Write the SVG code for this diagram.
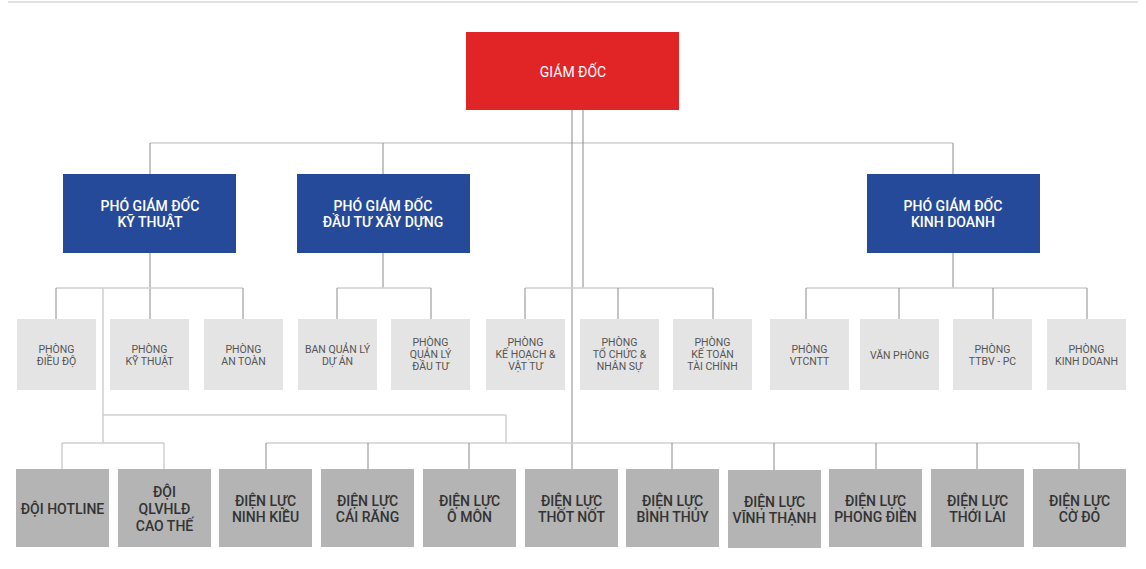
<svg xmlns="http://www.w3.org/2000/svg" width="1146" height="569" viewBox="0 0 1146 569">
<style>
  .red{fill:#e12527}
  .blue{fill:#264a9a}
  .light{fill:#e4e4e4}
  .mid{fill:#b4b4b4}
  .tw{fill:#ffffff;font-family:Roboto,"Liberation Sans",sans-serif;text-anchor:middle}
  .tb{font-size:14px;font-weight:500}
  .tg{fill:#555555;font-family:Roboto,"Liberation Sans",sans-serif;font-size:10.5px;text-anchor:middle}
  .td{fill:#333333;font-family:Roboto,"Liberation Sans",sans-serif;font-size:14px;font-weight:500;text-anchor:middle}
  .ln{stroke:#8a8a8a;stroke-width:1;fill:none}
  .lh{stroke:#cfcfcf;stroke-width:1.5;fill:none}
</style>
<line x1="8" y1="2" x2="1138" y2="2" stroke="#e2e2e2" stroke-width="2"/>
<g id="connectors">
  <line class="lh" x1="150" y1="143" x2="953" y2="143" stroke-width="2"/>
  <line class="ln" x1="150" y1="143" x2="150" y2="174"/>
  <line class="ln" x1="383" y1="143" x2="383" y2="174"/>
  <line class="ln" x1="953" y1="143" x2="953" y2="174"/>
  <line class="ln" x1="572" y1="110" x2="572" y2="469"/>
  <line class="ln" x1="583" y1="110" x2="583" y2="288"/>
  <line class="ln" x1="150" y1="253" x2="150" y2="319"/>
  <line class="lh" x1="56" y1="288" x2="243" y2="288"/>
  <line class="ln" x1="56" y1="288" x2="56" y2="319"/>
  <line class="ln" x1="243" y1="288" x2="243" y2="319"/>
  <line class="lh" x1="103" y1="288" x2="103" y2="443"/>
  <line class="ln" x1="383" y1="253" x2="383" y2="288"/>
  <line class="lh" x1="337" y1="288" x2="431" y2="288"/>
  <line class="ln" x1="337" y1="288" x2="337" y2="319"/>
  <line class="ln" x1="431" y1="288" x2="431" y2="319"/>
  <line class="lh" x1="525" y1="288" x2="713" y2="288"/>
  <line class="ln" x1="525" y1="288" x2="525" y2="319"/>
  <line class="ln" x1="618" y1="288" x2="618" y2="319"/>
  <line class="ln" x1="713" y1="288" x2="713" y2="319"/>
  <line class="ln" x1="953" y1="253" x2="953" y2="288"/>
  <line class="lh" x1="806" y1="288" x2="1087" y2="288"/>
  <line class="ln" x1="806" y1="288" x2="806" y2="319"/>
  <line class="ln" x1="899" y1="288" x2="899" y2="319"/>
  <line class="ln" x1="993" y1="288" x2="993" y2="319"/>
  <line class="ln" x1="1087" y1="288" x2="1087" y2="319"/>
  <line class="lh" x1="103" y1="415" x2="506" y2="415"/>
  <line class="lh" x1="506" y1="415" x2="506" y2="443"/>
  <line class="lh" x1="62" y1="443" x2="164" y2="443"/>
  <line class="lh" x1="62" y1="443" x2="62" y2="469"/>
  <line class="lh" x1="164" y1="443" x2="164" y2="469"/>
  <line class="lh" x1="266" y1="443" x2="1079" y2="443"/>
  <line class="ln" x1="266" y1="443" x2="266" y2="469"/>
  <line class="ln" x1="368" y1="443" x2="368" y2="469"/>
  <line class="ln" x1="469" y1="443" x2="469" y2="469"/>
  <line class="ln" x1="672" y1="443" x2="672" y2="469"/>
  <line class="ln" x1="774" y1="443" x2="774" y2="470"/>
  <line class="ln" x1="876" y1="443" x2="876" y2="469"/>
  <line class="ln" x1="977" y1="443" x2="977" y2="469"/>
  <line class="ln" x1="1079" y1="443" x2="1079" y2="469"/>
</g>
<g id="giam-doc"><rect class="red" x="466" y="32" width="213" height="78"/><text class="tw" x="573" y="77" font-size="14">GIÁM ĐỐC</text></g>
<g id="pgd-kt"><rect class="blue" x="63" y="174" width="173" height="79"/><text class="tw tb" x="150" y="211">PHÓ GIÁM ĐỐC</text><text class="tw tb" x="150" y="227">KỸ THUẬT</text></g>
<g id="pgd-dtxd"><rect class="blue" x="297" y="174" width="173" height="79"/><text class="tw tb" x="383" y="211">PHÓ GIÁM ĐỐC</text><text class="tw tb" x="383" y="227">ĐẦU TƯ XÂY DỰNG</text></g>
<g id="pgd-kd"><rect class="blue" x="867" y="174" width="173" height="79"/><text class="tw tb" x="953" y="211">PHÓ GIÁM ĐỐC</text><text class="tw tb" x="953" y="227">KINH DOANH</text></g>

<g id="p-dieudo"><rect class="light" x="17" y="319" width="79" height="71"/><text class="tg" x="56.5" y="353">PHÒNG</text><text class="tg" x="56.5" y="365">ĐIỀU ĐỘ</text></g>
<g id="p-kythuat"><rect class="light" x="110" y="319" width="79" height="71"/><text class="tg" x="149.5" y="353">PHÒNG</text><text class="tg" x="149.5" y="365">KỸ THUẬT</text></g>
<g id="p-antoan"><rect class="light" x="204" y="319" width="79" height="71"/><text class="tg" x="243.5" y="353">PHÒNG</text><text class="tg" x="243.5" y="365">AN TOÀN</text></g>
<g id="p-bqlda"><rect class="light" x="298" y="319" width="79" height="71"/><text class="tg" x="337.5" y="353">BAN QUẢN LÝ</text><text class="tg" x="337.5" y="365">DỰ ÁN</text></g>
<g id="p-qldt"><rect class="light" x="391" y="319" width="79" height="71"/><text class="tg" x="430.5" y="346">PHÒNG</text><text class="tg" x="430.5" y="358">QUẢN LÝ</text><text class="tg" x="430.5" y="370">ĐẦU TƯ</text></g>
<g id="p-khvt"><rect class="light" x="486" y="319" width="79" height="71"/><text class="tg" x="525.5" y="346">PHÒNG</text><text class="tg" x="525.5" y="358">KẾ HOẠCH &amp;</text><text class="tg" x="525.5" y="370">VẬT TƯ</text></g>
<g id="p-tcns"><rect class="light" x="580" y="319" width="79" height="71"/><text class="tg" x="619.5" y="346">PHÒNG</text><text class="tg" x="619.5" y="358">TỔ CHỨC &amp;</text><text class="tg" x="619.5" y="370">NHÂN SỰ</text></g>
<g id="p-ktoan"><rect class="light" x="673" y="319" width="79" height="71"/><text class="tg" x="712.5" y="346">PHÒNG</text><text class="tg" x="712.5" y="358">KẾ TOÁN</text><text class="tg" x="712.5" y="370">TÀI CHÍNH</text></g>
<g id="p-vtcntt"><rect class="light" x="770" y="319" width="79" height="71"/><text class="tg" x="809.5" y="353" fill="#333">PHÒNG</text><text class="tg" x="809.5" y="365" fill="#333">VTCNTT</text></g>
<g id="p-vanphong"><rect class="light" x="860" y="319" width="79" height="71"/><text class="tg" x="899.5" y="359">VĂN PHÒNG</text></g>
<g id="p-ttbv"><rect class="light" x="953" y="319" width="79" height="71"/><text class="tg" x="992.5" y="353">PHÒNG</text><text class="tg" x="992.5" y="365">TTBV - PC</text></g>
<g id="p-kinhdoanh"><rect class="light" x="1047" y="319" width="79" height="71"/><text class="tg" x="1086.5" y="353">PHÒNG</text><text class="tg" x="1086.5" y="365">KINH DOANH</text></g>

<g id="d-hotline"><rect class="mid" x="16" y="469" width="93" height="78"/><text class="td" x="62.5" y="514">ĐỘI HOTLINE</text></g>
<g id="d-qlvhld"><rect class="mid" x="118" y="469" width="93" height="78"/><text class="td" x="164.5" y="497">ĐỘI</text><text class="td" x="164.5" y="514">QLVHLĐ</text><text class="td" x="164.5" y="531">CAO THẾ</text></g>
<g id="dl-ninhkieu"><rect class="mid" x="219" y="469" width="93" height="78"/><text class="td" x="265.5" y="506">ĐIỆN LỰC</text><text class="td" x="265.5" y="522">NINH KIỀU</text></g>
<g id="dl-cairang"><rect class="mid" x="321" y="469" width="93" height="78"/><text class="td" x="367.5" y="506">ĐIỆN LỰC</text><text class="td" x="367.5" y="522">CÁI RĂNG</text></g>
<g id="dl-omon"><rect class="mid" x="423" y="469" width="93" height="78"/><text class="td" x="469.5" y="506">ĐIỆN LỰC</text><text class="td" x="469.5" y="522">Ô MÔN</text></g>
<g id="dl-thotnot"><rect class="mid" x="525" y="469" width="93" height="78"/><text class="td" x="571.5" y="506">ĐIỆN LỰC</text><text class="td" x="571.5" y="522">THỐT NỐT</text></g>
<g id="dl-binhthuy"><rect class="mid" x="626" y="469" width="93" height="78"/><text class="td" x="672.5" y="506">ĐIỆN LỰC</text><text class="td" x="672.5" y="522">BÌNH THỦY</text></g>
<g id="dl-vinhthanh"><rect class="mid" x="728" y="470" width="93" height="78"/><text class="td" x="774.5" y="507">ĐIỆN LỰC</text><text class="td" x="774.5" y="523">VĨNH THẠNH</text></g>
<g id="dl-phongdien"><rect class="mid" x="829" y="469" width="93" height="78"/><text class="td" x="875.5" y="506">ĐIỆN LỰC</text><text class="td" x="875.5" y="522">PHONG ĐIỀN</text></g>
<g id="dl-thoilai"><rect class="mid" x="931" y="469" width="93" height="78"/><text class="td" x="977.5" y="506">ĐIỆN LỰC</text><text class="td" x="977.5" y="522">THỚI LAI</text></g>
<g id="dl-codo"><rect class="mid" x="1033" y="469" width="93" height="78"/><text class="td" x="1079.5" y="506">ĐIỆN LỰC</text><text class="td" x="1079.5" y="522">CỜ ĐỎ</text></g>
</svg>
